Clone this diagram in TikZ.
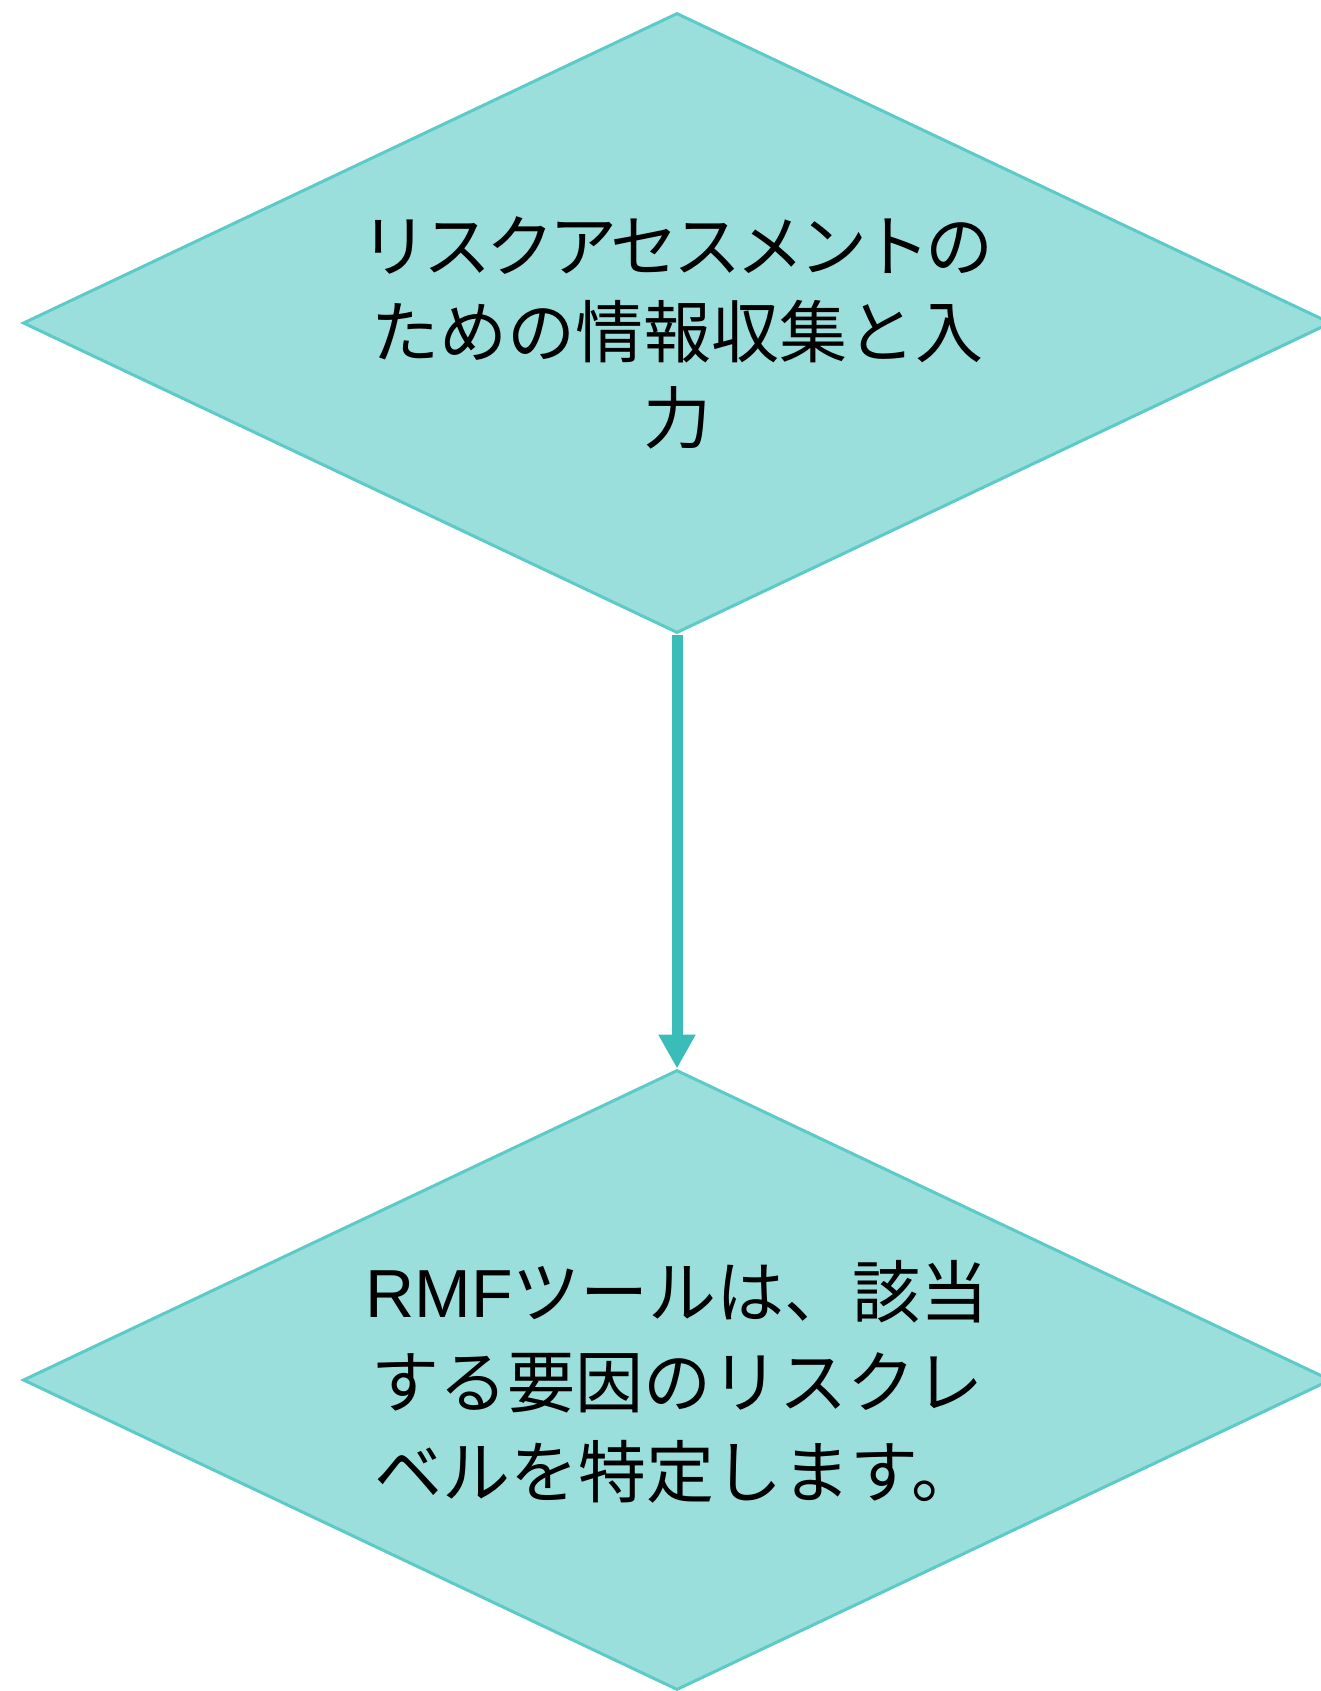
\documentclass[tikz,border=0pt]{standalone}
\usepackage{fontspec}
\setmainfont{Noto Sans CJK JP}
\newfontfamily\latfont{Liberation Sans}
\usetikzlibrary{shapes.geometric,arrows.meta}
\definecolor{dfill}{HTML}{9BDFDD}
\definecolor{dline}{HTML}{5CCAC6}
\definecolor{arr}{HTML}{3ABDB9}
\tikzset{
  decision/.style={diamond, draw=dline, line width=1.5pt, fill=dfill,
    minimum width=654pt, minimum height=310pt, inner sep=0pt, aspect=2.1,
    align=center, text=black},
  flow/.style={draw=arr, line width=5.5pt, -{Triangle[width=17.5pt,length=17pt]}}
}
\begin{document}
\begin{tikzpicture}[x=0.5pt,y=-0.5pt]
\useasboundingbox (0,0) rectangle (1321,1691);
\node[decision, font=\fontsize{34pt}{43pt}\selectfont] (a) at (677,323) {\raisebox{-5pt}[\height][\depth]{\parbox{360pt}{\centering {\addfontfeature{LetterSpace=-7.5}リスクアセスメントの}\\ための情報収集と入\\力}}};
\node[decision, font=\fontsize{34pt}{45pt}\selectfont] (b) at (677,1380) {\raisebox{-1pt}[\height][\depth]{\parbox{360pt}{\centering {\latfont RMF}ツールは、該当\\する要因のリスクレ\\ベルを特定します。}}};
\draw[flow] (a.south) -- (b.north);
\end{tikzpicture}
\end{document}
